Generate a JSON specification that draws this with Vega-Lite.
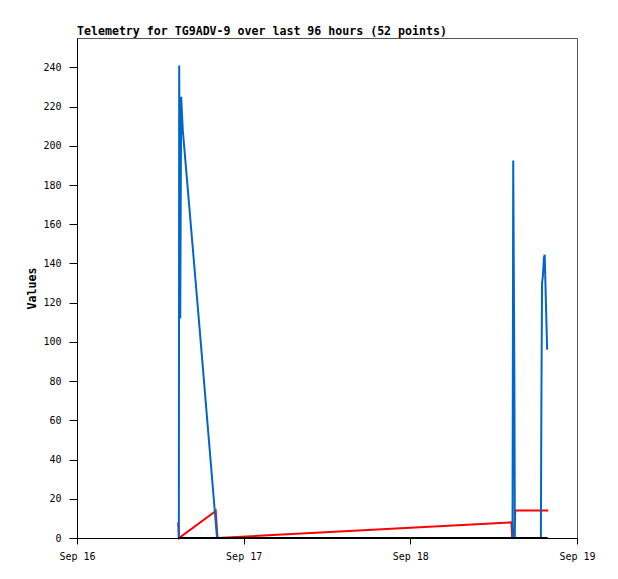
{
  "$schema": "https://vega.github.io/schema/vega-lite/v6.json",
  "width": 500,
  "height": 500,
  "autosize": {"type": "none"},
  "padding": {"left": 77, "top": 38, "right": 41, "bottom": 41},
  "background": "#ffffff",
  "title": {
    "text": "Telemetry for TG9ADV-9 over last 96 hours (52 points)",
    "anchor": "start",
    "frame": "group",
    "font": "DejaVu Sans Mono",
    "fontSize": 11.6,
    "fontWeight": "bold",
    "color": "#000000",
    "baseline": "alphabetic",
    "offset": 4,
    "dy": 12.5
  },
  "config": {
    "view": {"stroke": "#555555", "strokeWidth": 1},
    "axis": {
      "grid": false,
      "domainColor": "#000000",
      "tickColor": "#000000",
      "labelFont": "DejaVu Sans Mono",
      "labelFontSize": 10,
      "labelColor": "#000000",
      "titleFont": "DejaVu Sans Mono",
      "titleFontSize": 11.6,
      "titleFontWeight": "bold",
      "titleColor": "#000000",
      "labelFlush": false,
      "labelOverlap": false
    }
  },
  "data": {
    "values": [
      {"t": "2024-09-16T14:34:00", "s": "red", "v": 8},
      {"t": "2024-09-16T14:41:00", "s": "red", "v": 0},
      {"t": "2024-09-16T19:44:00", "s": "red", "v": 13.1},
      {"t": "2024-09-16T19:58:00", "s": "red", "v": 14},
      {"t": "2024-09-16T20:14:00", "s": "red", "v": 0},
      {"t": "2024-09-18T14:33:00", "s": "red", "v": 8},
      {"t": "2024-09-18T14:40:00", "s": "red", "v": 0},
      {"t": "2024-09-18T15:01:00", "s": "red", "v": 6.5},
      {"t": "2024-09-18T15:07:00", "s": "red", "v": 14},
      {"t": "2024-09-18T19:51:00", "s": "red", "v": 14},

      {"t": "2024-09-16T14:40:00", "s": "blue", "v": 0},
      {"t": "2024-09-16T14:43:00", "s": "blue", "v": 241},
      {"t": "2024-09-16T14:52:00", "s": "blue", "v": 112},
      {"t": "2024-09-16T15:00:00", "s": "blue", "v": 225},
      {"t": "2024-09-16T15:14:00", "s": "blue", "v": 208},
      {"t": "2024-09-16T17:39:00", "s": "blue", "v": 107},
      {"t": "2024-09-16T20:10:00", "s": "blue", "v": 0},
      {"t": "2024-09-18T14:43:00", "s": "blue", "v": 0},
      {"t": "2024-09-18T14:49:00", "s": "blue", "v": 192.5},
      {"t": "2024-09-18T14:59:00", "s": "blue", "v": 80.7},
      {"t": "2024-09-18T15:03:00", "s": "blue", "v": 0},
      {"t": "2024-09-18T18:48:00", "s": "blue", "v": 0},
      {"t": "2024-09-18T18:52:00", "s": "blue", "v": 64.5},
      {"t": "2024-09-18T18:58:00", "s": "blue", "v": 130},
      {"t": "2024-09-18T19:06:00", "s": "blue", "v": 134},
      {"t": "2024-09-18T19:14:00", "s": "blue", "v": 143},
      {"t": "2024-09-18T19:21:00", "s": "blue", "v": 144.5},
      {"t": "2024-09-18T19:31:00", "s": "blue", "v": 121},
      {"t": "2024-09-18T19:42:00", "s": "blue", "v": 96},

      {"t": "2024-09-16T14:32:00", "s": "black", "v": 0},
      {"t": "2024-09-18T19:46:00", "s": "black", "v": 0}
    ]
  },
  "encoding": {
    "x": {
      "field": "t",
      "type": "temporal",
      "title": null,
      "scale": {
        "domain": [
          {"year": 2024, "month": 9, "date": 16},
          {"year": 2024, "month": 9, "date": 19}
        ],
        "nice": false
      },
      "axis": {
        "format": "%b %d",
        "tickCount": {"interval": "day", "step": 1},
        "tickSize": 6,
        "labelPadding": 7
      }
    },
    "y": {
      "field": "v",
      "type": "quantitative",
      "title": "Values",
      "scale": {"domain": [0, 255], "nice": false},
      "axis": {
        "values": [0, 20, 40, 60, 80, 100, 120, 140, 160, 180, 200, 220, 240],
        "tickSize": 8,
        "labelPadding": 8,
        "titleAngle": -90,
        "titleX": -45,
        "titleY": 250,
        "titleAlign": "center",
        "titleBaseline": "middle"
      }
    }
  },
  "layer": [
    {
      "transform": [{"filter": "datum.s === 'red'"}],
      "mark": {"type": "line", "color": "#ff0000", "strokeWidth": 2, "strokeCap": "butt"}
    },
    {
      "transform": [{"filter": "datum.s === 'blue'"}],
      "mark": {"type": "line", "color": "#0066cc", "strokeWidth": 2, "strokeCap": "butt"}
    },
    {
      "transform": [{"filter": "datum.s === 'black'"}],
      "mark": {"type": "line", "color": "#000000", "strokeWidth": 2, "strokeCap": "butt"}
    }
  ]
}
